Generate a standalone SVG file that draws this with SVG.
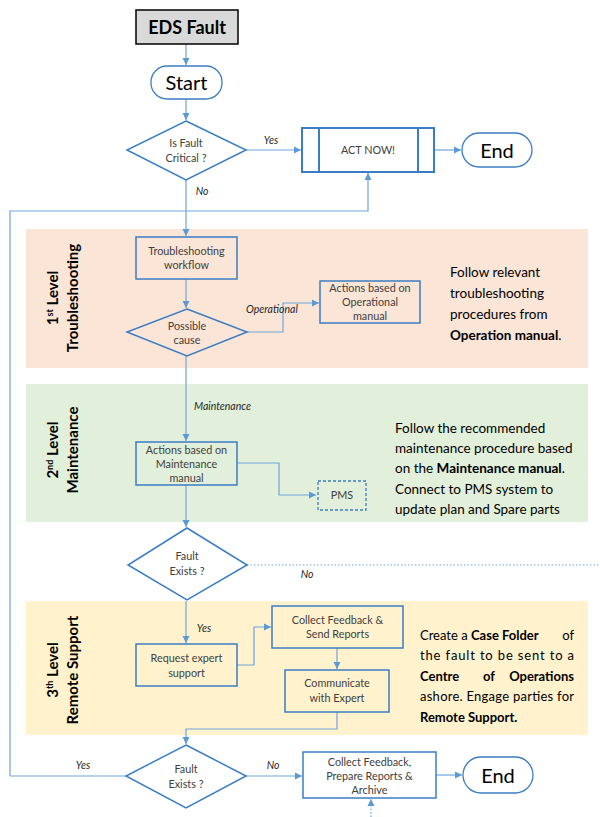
<svg xmlns="http://www.w3.org/2000/svg" width="600" height="817" viewBox="0 0 600 817">
<defs>
<marker id="arr" markerWidth="8" markerHeight="8" refX="7" refY="4" orient="auto" markerUnits="userSpaceOnUse">
<path d="M0,0.5 L7,4 L0,7.5 Z" fill="#5b9bd5"/>
</marker>
</defs>
<style>
.band1{fill:#fbe5d6}
.band2{fill:#e2efda}
.band3{fill:#fff2cc}
.node{fill:none;stroke:#3b7dc4;stroke-width:1.5}
.term{fill:#fff;stroke:#3b7dc4;stroke-width:1.3}
.conn{fill:none;stroke:#6ea6dc;stroke-width:1.2}
.dot{fill:none;stroke:#6ea6dc;stroke-width:1.2;stroke-dasharray:1.5 2}
.t{font-family:Lato,"Liberation Sans",sans-serif;font-size:10.8px;fill:#404040;text-anchor:middle}
.big{font-family:Lato,"Liberation Sans",sans-serif;font-size:20px;fill:#000;text-anchor:middle}
.lbl{font-family:Lato,"Liberation Sans",sans-serif;font-size:10.5px;font-style:italic;fill:#262626}
.side{font-family:Lato,"Liberation Sans",sans-serif;font-size:13.5px;fill:#000}
.side3{font-family:Lato,"Liberation Sans",sans-serif;font-size:13px;fill:#000}
.rot{font-family:Lato,"Liberation Sans",sans-serif;font-size:15px;font-weight:bold;fill:#000;text-anchor:middle}
</style>

<g id="bands">
<rect class="band1" x="26" y="229" width="562" height="139"/>
<rect class="band2" x="26" y="384" width="562" height="138"/>
<rect class="band3" x="26" y="601" width="562" height="134"/>
</g>

<g id="lane1-title">
<text class="rot" transform="translate(58,298) rotate(-90)">1<tspan font-size="9" baseline-shift="super">st</tspan> Level</text>
<text class="rot" transform="translate(78,298) rotate(-90)">Troubleshooting</text>
</g>
<g id="lane2-title">
<text class="rot" transform="translate(58,450) rotate(-90)">2<tspan font-size="9" baseline-shift="super">nd</tspan> Level</text>
<text class="rot" transform="translate(78,450) rotate(-90)">Maintenance</text>
</g>
<g id="lane3-title">
<text class="rot" transform="translate(58,670) rotate(-90)">3<tspan font-size="9" baseline-shift="super">th</tspan> Level</text>
<text class="rot" transform="translate(78,670) rotate(-90)">Remote Support</text>
</g>

<g id="connectors">
<line class="conn" x1="186" y1="44" x2="186" y2="65" marker-end="url(#arr)"/>
<line class="conn" x1="186" y1="99" x2="186" y2="120" marker-end="url(#arr)"/>
<line class="conn" x1="246" y1="150" x2="301" y2="150" marker-end="url(#arr)"/>
<line class="conn" x1="434" y1="150" x2="461" y2="150" marker-end="url(#arr)"/>
<line class="conn" x1="186" y1="180" x2="186" y2="236" marker-end="url(#arr)"/>
<polyline class="conn" points="10,776 10,211 368,211 368,173" marker-end="url(#arr)"/>
<line class="conn" x1="186" y1="279" x2="186" y2="308" marker-end="url(#arr)"/>
<polyline class="conn" points="247,332 283,332 283,303 319,303" marker-end="url(#arr)"/>
<line class="conn" x1="186" y1="356" x2="186" y2="441" marker-end="url(#arr)"/>
<polyline class="conn" points="237,463 279,463 279,495 316,495" marker-end="url(#arr)"/>
<line class="conn" x1="186" y1="485" x2="186" y2="527" marker-end="url(#arr)"/>
<line class="dot" x1="247" y1="565" x2="600" y2="565"/>
<line class="conn" x1="186" y1="601" x2="186" y2="643" marker-end="url(#arr)"/>
<polyline class="conn" points="237,665 254,665 254,627 271,627" marker-end="url(#arr)"/>
<line class="conn" x1="337" y1="648" x2="337" y2="669" marker-end="url(#arr)"/>
<polyline class="conn" points="337,712 337,729 186,729 186,744" marker-end="url(#arr)"/>
<line class="conn" x1="126" y1="776" x2="10" y2="776"/>
<line class="conn" x1="246" y1="776" x2="302" y2="776" marker-end="url(#arr)"/>
<line class="conn" x1="436" y1="775" x2="462" y2="775" marker-end="url(#arr)"/>
<line class="dot" x1="371" y1="817" x2="371" y2="799" marker-end="url(#arr)"/>
<text class="lbl" x="271" y="144" text-anchor="middle">Yes</text>
<text class="lbl" x="202" y="195" text-anchor="middle">No</text>
<text class="lbl" x="246" y="313">Operational</text>
<text class="lbl" x="194" y="410">Maintenance</text>
<text class="lbl" x="307" y="578" text-anchor="middle">No</text>
<text class="lbl" x="204" y="632" text-anchor="middle">Yes</text>
<text class="lbl" x="83" y="769" text-anchor="middle">Yes</text>
<text class="lbl" x="273" y="769" text-anchor="middle">No</text>
</g>

<g id="eds-fault">
<rect x="136" y="10" width="102" height="34" fill="#d9d9d9" stroke="#000" stroke-width="1.5"/>
<text x="187" y="34" font-family="Lato,'Liberation Sans',sans-serif" font-size="18" font-weight="bold" text-anchor="middle" fill="#000">EDS Fault</text>
</g>
<g id="start">
<rect class="term" x="151" y="66" width="71" height="33" rx="16"/>
<text class="big" x="186.5" y="89.5">Start</text>
</g>
<g id="is-critical">
<polygon class="node" points="186,121 246,150 186,180 127,150" fill="#fff"/>
<text class="t" x="186" y="147">Is  Fault</text>
<text class="t" x="186" y="162">Critical ?</text>
</g>
<g id="act-now">
<rect x="302" y="128" width="132" height="44" fill="#fff" stroke="#3b7dc4" stroke-width="2"/>
<line x1="319" y1="128" x2="319" y2="172" stroke="#3b7dc4" stroke-width="2"/>
<line x1="418" y1="128" x2="418" y2="172" stroke="#3b7dc4" stroke-width="2"/>
<text class="t" x="368" y="154">ACT NOW!</text>
</g>
<g id="end-top">
<rect class="term" x="462" y="133" width="70" height="34" rx="17"/>
<text class="big" x="497" y="157.5">End</text>
</g>

<g id="troubleshooting-workflow">
<rect class="node" x="136" y="237" width="101" height="42"/>
<text class="t" x="186.5" y="255">Troubleshooting</text>
<text class="t" x="186.5" y="269">workflow</text>
</g>
<g id="possible-cause">
<polygon class="node" points="187,309 247,332 187,356 127,332"/>
<text class="t" x="187" y="330">Possible</text>
<text class="t" x="187" y="344">cause</text>
</g>
<g id="actions-operational">
<rect class="node" x="320" y="281" width="100" height="42"/>
<text class="t" x="370" y="292">Actions based on</text>
<text class="t" x="370" y="306">Operational</text>
<text class="t" x="370" y="320">manual</text>
</g>
<g id="note1">
<text class="side" x="450" y="277">Follow relevant</text>
<text class="side" x="450" y="298">troubleshooting</text>
<text class="side" x="450" y="319">procedures from</text>
<text class="side" x="450" y="340"><tspan font-weight="bold">Operation manual</tspan>.</text>
</g>

<g id="actions-maintenance">
<rect class="node" x="136" y="442" width="101" height="43"/>
<text class="t" x="186.5" y="454">Actions based on</text>
<text class="t" x="186.5" y="468">Maintenance</text>
<text class="t" x="186.5" y="482">manual</text>
</g>
<g id="pms">
<rect x="318" y="481" width="48" height="29" fill="none" stroke="#3b7dc4" stroke-width="1.3" stroke-dasharray="3 2"/>
<text class="t" x="342" y="499">PMS</text>
</g>
<g id="note2">
<text class="side" x="395" y="433">Follow the recommended</text>
<text class="side" x="395" y="453">maintenance procedure based</text>
<text class="side" x="395" y="473">on the <tspan font-weight="bold">Maintenance manual</tspan>.</text>
<text class="side" x="395" y="494">Connect to PMS system to</text>
<text class="side" x="395" y="514">update plan and Spare parts</text>
</g>

<g id="fault-exists-1">
<polygon class="node" points="187,528 247,565 187,600 128,565" fill="#fff"/>
<text class="t" x="187" y="560">Fault</text>
<text class="t" x="187" y="575">Exists ?</text>
</g>

<g id="request-expert">
<rect class="node" x="136" y="644" width="101" height="42"/>
<text class="t" x="186.5" y="662">Request expert</text>
<text class="t" x="186.5" y="677">support</text>
</g>
<g id="collect-send">
<rect class="node" x="272" y="606" width="131" height="42"/>
<text class="t" x="337.5" y="624">Collect Feedback &amp;</text>
<text class="t" x="337.5" y="638">Send Reports</text>
</g>
<g id="communicate">
<rect class="node" x="285" y="670" width="104" height="42"/>
<text class="t" x="337" y="687">Communicate</text>
<text class="t" x="337" y="702">with Expert</text>
</g>
<g id="note3">
<text class="side3" x="420" y="640">Create a <tspan font-weight="bold">Case Folder</tspan></text>
<text class="side3" x="574" y="640" text-anchor="end">of</text>
<text class="side3" x="420" y="660" textLength="154" lengthAdjust="spacing">the fault to be sent to a</text>
<text class="side3" x="420" y="681" font-weight="bold">Centre</text>
<text class="side3" x="489" y="681" font-weight="bold" text-anchor="middle">of</text>
<text class="side3" x="574" y="681" font-weight="bold" text-anchor="end">Operations</text>
<text class="side3" x="420" y="701" textLength="154" lengthAdjust="spacing">ashore. Engage parties for</text>
<text class="side3" x="420" y="722" font-weight="bold">Remote Support.</text>
</g>

<g id="fault-exists-2">
<polygon class="node" points="186,745 246,776 186,808 126,776" fill="#fff"/>
<text class="t" x="186" y="773">Fault</text>
<text class="t" x="186" y="788">Exists ?</text>
</g>
<g id="collect-archive">
<rect class="node" x="303" y="752" width="133" height="46" fill="#fff"/>
<text class="t" x="369.5" y="766">Collect Feedback,</text>
<text class="t" x="369.5" y="780">Prepare Reports &amp;</text>
<text class="t" x="369.5" y="794">Archive</text>
</g>
<g id="end-bottom">
<rect class="term" x="463" y="757" width="70" height="36" rx="18"/>
<text class="big" x="498" y="782.5">End</text>
</g>
</svg>
